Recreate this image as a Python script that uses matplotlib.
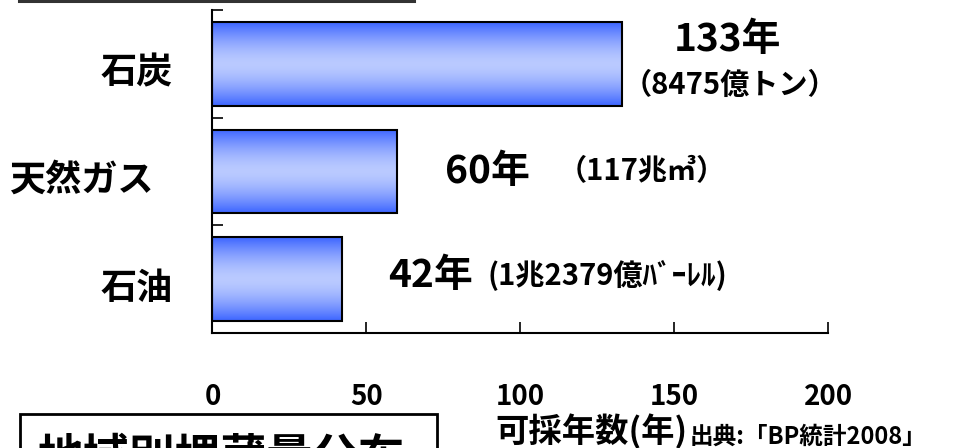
import numpy as np
import matplotlib
matplotlib.use("Agg")
import matplotlib.pyplot as plt
from matplotlib.patches import Rectangle
from matplotlib.lines import Line2D

plt.rcParams['font.family'] = ['Noto Sans CJK JP', 'DejaVu Sans']
plt.rcParams['font.weight'] = 'bold'

# data (bottom to top)
fuels = ['石油', '天然ガス', '石炭']
years = [42, 60, 133]
main_labels = ['42年', '60年', '133年']
sub_labels = ['(1兆2379億ﾊﾞｰﾚﾙ)', '（117兆㎥）', '（8475億トン）']
xticks = [0, 50, 100, 150, 200]

fig = plt.figure(figsize=(9.79, 4.48), dpi=100)
W, H = 979, 448
ax = fig.add_axes([212.5 / W, 1 - 333 / H, 616 / W, 323 / H])

# vertical gradient used to fill each bar
t = np.linspace(-1, 1, 64)
prof = 1 - np.abs(t) ** 1.6
edge = np.array([62, 102, 255]) / 255
mid = np.array([186, 202, 255]) / 255
grad = (edge[None, :] + (mid - edge)[None, :] * prof[:, None])[:, None, :]

ypos = np.arange(len(fuels))
h = 0.78
bars = ax.barh(ypos, years, height=h, facecolor='none', edgecolor='black', linewidth=1.5, zorder=3)
for b in bars:
    x0, y0 = b.get_x(), b.get_y()
    ax.imshow(grad, extent=[x0, x0 + b.get_width(), y0, y0 + b.get_height()],
              aspect='auto', origin='lower', zorder=2, interpolation='bilinear')

ax.set_xlim(0, 200)
ax.set_ylim(-0.5, len(fuels) - 0.5)
ax.set_xticks(xticks)
ax.set_xticklabels([str(v) for v in xticks], fontsize=20, fontweight='bold')
ax.set_yticks(np.arange(len(fuels) + 1) - 0.5)
ax.set_yticklabels([])
ax.tick_params(axis='x', direction='in', length=8, width=1.2, pad=36)
ax.tick_params(axis='y', direction='in', length=8, width=1.2)
for s in ['top', 'right']:
    ax.spines[s].set_visible(False)
for s in ['left', 'bottom']:
    ax.spines[s].set_linewidth(1.5)

# category names, placed in pixel offsets left of the axis
name_x = [-40, -59, -40]
for i, name in enumerate(fuels):
    ax.annotate(name, xy=(0, ypos[i]), xytext=(name_x[i], -9), textcoords='offset pixels',
                ha='right', va='center', fontsize=26, fontweight='bold')

# value labels
main_off = [(46, 4, 'left'), (48, 0, 'left'), (105, 24, 'center')]
sub_off = [(146, 4, 'left'), (160, 0, 'left'), (108, -21, 'center')]
for i in range(len(fuels)):
    dx, dy, ha = main_off[i]
    ax.annotate(main_labels[i], xy=(years[i], ypos[i]), xytext=(dx, dy), textcoords='offset pixels',
                ha=ha, va='center', fontsize=28, fontweight='bold')
    dx, dy, ha = sub_off[i]
    ax.annotate(sub_labels[i], xy=(years[i], ypos[i]), xytext=(dx, dy), textcoords='offset pixels',
                ha=ha, va='center', fontsize=21, fontweight='bold')

fig.text(495 / W, 1 - 432 / H, '可採年数(年)', fontsize=24, fontweight='bold', ha='left', va='center')
fig.text(690 / W, 1 - 437 / H, '出典:「BP統計2008」', fontsize=17, fontweight='bold', ha='left', va='center')

# frame remnants at the edges
fig.add_artist(Line2D([19 / W, 414 / W], [1 - 1.5 / H, 1 - 1.5 / H], color='#333333', lw=2.2))
fig.add_artist(Rectangle((20 / W, -0.2), 417 / W, 0.2 + 1 - 414 / H, transform=fig.transFigure,
                         fill=False, edgecolor='black', lw=2))
fig.text(37 / W, 1 - 436 / H, '地域別埋蔵量分布', fontsize=33, fontweight='bold', ha='left', va='top')

fig.savefig('out.png', dpi=100)
